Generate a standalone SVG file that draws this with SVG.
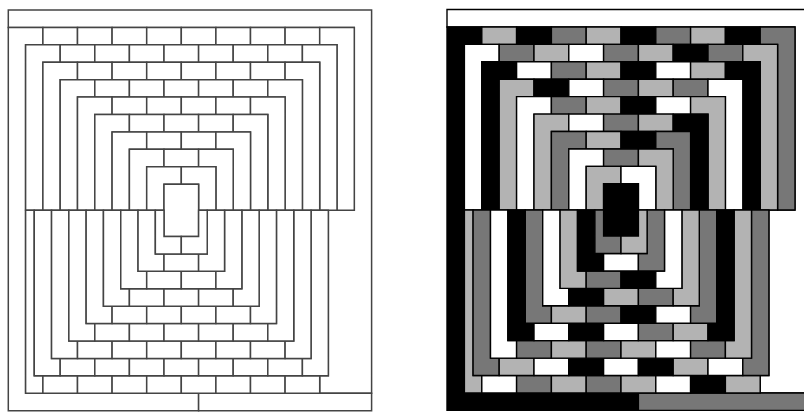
<svg xmlns="http://www.w3.org/2000/svg" width="804" height="413" viewBox="0 0 804 413">
<style>
rect,polygon{vector-effect:non-scaling-stroke;stroke-linejoin:miter}
.k{fill:#000}.d{fill:#777}.l{fill:#b3b3b3}.w{fill:#fff}
#right rect,#right polygon{stroke:#000;stroke-width:1.4}
#left rect,#left polygon{fill:#fff;stroke:#444;stroke-width:1.5}
</style>
<rect x="0" y="0" width="804" height="413" fill="#fff" style="stroke:none"/>
<g id="left" transform="translate(8.3,10) scale(17.3,17.42)">
<polygon class="w" points="0,0 21,0 21,22 18,22 18,21 18.5,21 18.5,11.5 20,11.5 20,1 0,1"/>
<polygon class="k" points="0,1 2,1 2,2 1,2 1,22 11,22 11,23 0,23"/>
<rect class="d" x="11" y="22" width="10" height="1"/>
<rect class="l" x="2" y="1" width="2" height="1"/><rect class="k" x="4" y="1" width="2" height="1"/><rect class="d" x="6" y="1" width="2" height="1"/><rect class="l" x="8" y="1" width="2" height="1"/><rect class="k" x="10" y="1" width="2" height="1"/><rect class="d" x="12" y="1" width="2" height="1"/><rect class="l" x="14" y="1" width="2" height="1"/><rect class="k" x="16" y="1" width="2" height="1"/>
<polygon class="d" points="18,1 20,1 20,11.5 19,11.5 19,2 18,2"/>
<polygon class="w" points="1,2 3,2 3,3 2,3 2,11.5 1,11.5"/>
<rect class="d" x="3" y="2" width="2" height="1"/><rect class="l" x="5" y="2" width="2" height="1"/><rect class="w" x="7" y="2" width="2" height="1"/><rect class="d" x="9" y="2" width="2" height="1"/><rect class="l" x="11" y="2" width="2" height="1"/><rect class="k" x="13" y="2" width="2" height="1"/><rect class="d" x="15" y="2" width="2" height="1"/>
<polygon class="l" points="17,2 19,2 19,11.5 18,11.5 18,3 17,3"/>
<polygon class="k" points="2,3 4,3 4,4 3,4 3,11.5 2,11.5"/>
<rect class="w" x="4" y="3" width="2" height="1"/><rect class="d" x="6" y="3" width="2" height="1"/><rect class="l" x="8" y="3" width="2" height="1"/><rect class="k" x="10" y="3" width="2" height="1"/><rect class="w" x="12" y="3" width="2" height="1"/><rect class="l" x="14" y="3" width="2" height="1"/>
<polygon class="k" points="16,3 18,3 18,11.5 17,11.5 17,4 16,4"/>
<polygon class="l" points="3,4 5,4 5,5 4,5 4,11.5 3,11.5"/>
<rect class="k" x="5" y="4" width="2" height="1"/><rect class="w" x="7" y="4" width="2" height="1"/><rect class="d" x="9" y="4" width="2" height="1"/><rect class="l" x="11" y="4" width="2" height="1"/><rect class="d" x="13" y="4" width="2" height="1"/>
<polygon class="w" points="15,4 17,4 17,11.5 16,11.5 16,5 15,5"/>
<polygon class="w" points="4,5 6,5 6,6 5,6 5,11.5 4,11.5"/>
<rect class="d" x="6" y="5" width="2" height="1"/><rect class="l" x="8" y="5" width="2" height="1"/><rect class="k" x="10" y="5" width="2" height="1"/><rect class="w" x="12" y="5" width="2" height="1"/>
<polygon class="l" points="14,5 16,5 16,11.5 15,11.5 15,6 14,6"/>
<polygon class="l" points="5,6 7,6 7,7 6,7 6,11.5 5,11.5"/>
<rect class="w" x="7" y="6" width="2" height="1"/><rect class="d" x="9" y="6" width="2" height="1"/><rect class="l" x="11" y="6" width="2" height="1"/>
<polygon class="k" points="13,6 15,6 15,11.5 14,11.5 14,7 13,7"/>
<polygon class="d" points="6,7 8,7 8,8 7,8 7,11.5 6,11.5"/>
<rect class="l" x="8" y="7" width="2" height="1"/><rect class="k" x="10" y="7" width="2" height="1"/>
<polygon class="d" points="12,7 14,7 14,11.5 13,11.5 13,8 12,8"/>
<polygon class="w" points="7,8 9,8 9,9 8,9 8,11.5 7,11.5"/>
<rect class="d" x="9" y="8" width="2" height="1"/>
<polygon class="l" points="11,8 13,8 13,11.5 12,11.5 12,9 11,9"/>
<polygon class="l" points="8,9 10,9 10,10 9,10 9,11.5 8,11.5"/>
<polygon class="w" points="10,9 12,9 12,11.5 11,11.5 11,10 10,10"/>
<rect class="k" x="9" y="10" width="2" height="3"/>
<polygon class="l" points="1,11.5 1.5,11.5 1.5,21 2,21 2,22 1,22"/>
<rect class="w" x="2" y="21" width="2" height="1"/><rect class="d" x="4" y="21" width="2" height="1"/><rect class="l" x="6" y="21" width="2" height="1"/><rect class="d" x="8" y="21" width="2" height="1"/><rect class="l" x="10" y="21" width="2" height="1"/><rect class="w" x="12" y="21" width="2" height="1"/><rect class="k" x="14" y="21" width="2" height="1"/><rect class="l" x="16" y="21" width="2" height="1"/>
<polygon class="d" points="1.5,11.5 2.5,11.5 2.5,20 3,20 3,21 1.5,21"/>
<rect class="l" x="3" y="20" width="2" height="1"/><rect class="w" x="5" y="20" width="2" height="1"/><rect class="k" x="7" y="20" width="2" height="1"/><rect class="w" x="9" y="20" width="2" height="1"/><rect class="k" x="11" y="20" width="2" height="1"/><rect class="l" x="13" y="20" width="2" height="1"/><rect class="w" x="15" y="20" width="2" height="1"/>
<polygon class="d" points="17.5,11.5 18.5,11.5 18.5,21 17,21 17,20 17.5,20"/>
<polygon class="w" points="2.5,11.5 3.5,11.5 3.5,19 4,19 4,20 2.5,20"/>
<rect class="d" x="4" y="19" width="2" height="1"/><rect class="l" x="6" y="19" width="2" height="1"/><rect class="d" x="8" y="19" width="2" height="1"/><rect class="l" x="10" y="19" width="2" height="1"/><rect class="w" x="12" y="19" width="2" height="1"/><rect class="d" x="14" y="19" width="2" height="1"/>
<polygon class="l" points="16.5,11.5 17.5,11.5 17.5,20 16,20 16,19 16.5,19"/>
<polygon class="k" points="3.5,11.5 4.5,11.5 4.5,18 5,18 5,19 3.5,19"/>
<rect class="w" x="5" y="18" width="2" height="1"/><rect class="k" x="7" y="18" width="2" height="1"/><rect class="w" x="9" y="18" width="2" height="1"/><rect class="d" x="11" y="18" width="2" height="1"/><rect class="l" x="13" y="18" width="2" height="1"/>
<polygon class="k" points="15.5,11.5 16.5,11.5 16.5,19 15,19 15,18 15.5,18"/>
<polygon class="d" points="4.5,11.5 5.5,11.5 5.5,17 6,17 6,18 4.5,18"/>
<rect class="l" x="6" y="17" width="2" height="1"/><rect class="d" x="8" y="17" width="2" height="1"/><rect class="k" x="10" y="17" width="2" height="1"/><rect class="w" x="12" y="17" width="2" height="1"/>
<polygon class="d" points="14.5,11.5 15.5,11.5 15.5,18 14,18 14,17 14.5,17"/>
<polygon class="w" points="5.5,11.5 6.5,11.5 6.5,16 7,16 7,17 5.5,17"/>
<rect class="k" x="7" y="16" width="2" height="1"/><rect class="l" x="9" y="16" width="2" height="1"/><rect class="d" x="11" y="16" width="2" height="1"/>
<polygon class="l" points="13.5,11.5 14.5,11.5 14.5,17 13,17 13,16 13.5,16"/>
<polygon class="l" points="6.5,11.5 7.5,11.5 7.5,15 8,15 8,16 6.5,16"/>
<rect class="d" x="8" y="15" width="2" height="1"/><rect class="k" x="10" y="15" width="2" height="1"/>
<polygon class="w" points="12.5,11.5 13.5,11.5 13.5,16 12,16 12,15 12.5,15"/>
<polygon class="k" points="7.5,11.5 8.5,11.5 8.5,14 9,14 9,15 7.5,15"/>
<rect class="w" x="9" y="14" width="2" height="1"/>
<polygon class="d" points="11.5,11.5 12.5,11.5 12.5,15 11,15 11,14 11.5,14"/>
<polygon class="d" points="8.5,11.5 9,11.5 9,13 10,13 10,14 8.5,14"/>
<polygon class="l" points="11,11.5 11.5,11.5 11.5,14 10,14 10,13 11,13"/>
</g>
<g id="right" transform="translate(447,9.5) scale(17.4,17.43)">
<polygon class="w" points="0,0 21,0 21,22 18,22 18,21 18.5,21 18.5,11.5 20,11.5 20,1 0,1"/>
<polygon class="k" points="0,1 2,1 2,2 1,2 1,22 11,22 11,23 0,23"/>
<rect class="d" x="11" y="22" width="10" height="1"/>
<rect class="l" x="2" y="1" width="2" height="1"/><rect class="k" x="4" y="1" width="2" height="1"/><rect class="d" x="6" y="1" width="2" height="1"/><rect class="l" x="8" y="1" width="2" height="1"/><rect class="k" x="10" y="1" width="2" height="1"/><rect class="d" x="12" y="1" width="2" height="1"/><rect class="l" x="14" y="1" width="2" height="1"/><rect class="k" x="16" y="1" width="2" height="1"/>
<polygon class="d" points="18,1 20,1 20,11.5 19,11.5 19,2 18,2"/>
<polygon class="w" points="1,2 3,2 3,3 2,3 2,11.5 1,11.5"/>
<rect class="d" x="3" y="2" width="2" height="1"/><rect class="l" x="5" y="2" width="2" height="1"/><rect class="w" x="7" y="2" width="2" height="1"/><rect class="d" x="9" y="2" width="2" height="1"/><rect class="l" x="11" y="2" width="2" height="1"/><rect class="k" x="13" y="2" width="2" height="1"/><rect class="d" x="15" y="2" width="2" height="1"/>
<polygon class="l" points="17,2 19,2 19,11.5 18,11.5 18,3 17,3"/>
<polygon class="k" points="2,3 4,3 4,4 3,4 3,11.5 2,11.5"/>
<rect class="w" x="4" y="3" width="2" height="1"/><rect class="d" x="6" y="3" width="2" height="1"/><rect class="l" x="8" y="3" width="2" height="1"/><rect class="k" x="10" y="3" width="2" height="1"/><rect class="w" x="12" y="3" width="2" height="1"/><rect class="l" x="14" y="3" width="2" height="1"/>
<polygon class="k" points="16,3 18,3 18,11.5 17,11.5 17,4 16,4"/>
<polygon class="l" points="3,4 5,4 5,5 4,5 4,11.5 3,11.5"/>
<rect class="k" x="5" y="4" width="2" height="1"/><rect class="w" x="7" y="4" width="2" height="1"/><rect class="d" x="9" y="4" width="2" height="1"/><rect class="l" x="11" y="4" width="2" height="1"/><rect class="d" x="13" y="4" width="2" height="1"/>
<polygon class="w" points="15,4 17,4 17,11.5 16,11.5 16,5 15,5"/>
<polygon class="w" points="4,5 6,5 6,6 5,6 5,11.5 4,11.5"/>
<rect class="d" x="6" y="5" width="2" height="1"/><rect class="l" x="8" y="5" width="2" height="1"/><rect class="k" x="10" y="5" width="2" height="1"/><rect class="w" x="12" y="5" width="2" height="1"/>
<polygon class="l" points="14,5 16,5 16,11.5 15,11.5 15,6 14,6"/>
<polygon class="l" points="5,6 7,6 7,7 6,7 6,11.5 5,11.5"/>
<rect class="w" x="7" y="6" width="2" height="1"/><rect class="d" x="9" y="6" width="2" height="1"/><rect class="l" x="11" y="6" width="2" height="1"/>
<polygon class="k" points="13,6 15,6 15,11.5 14,11.5 14,7 13,7"/>
<polygon class="d" points="6,7 8,7 8,8 7,8 7,11.5 6,11.5"/>
<rect class="l" x="8" y="7" width="2" height="1"/><rect class="k" x="10" y="7" width="2" height="1"/>
<polygon class="d" points="12,7 14,7 14,11.5 13,11.5 13,8 12,8"/>
<polygon class="w" points="7,8 9,8 9,9 8,9 8,11.5 7,11.5"/>
<rect class="d" x="9" y="8" width="2" height="1"/>
<polygon class="l" points="11,8 13,8 13,11.5 12,11.5 12,9 11,9"/>
<polygon class="l" points="8,9 10,9 10,10 9,10 9,11.5 8,11.5"/>
<polygon class="w" points="10,9 12,9 12,11.5 11,11.5 11,10 10,10"/>
<rect class="k" x="9" y="10" width="2" height="3"/>
<polygon class="l" points="1,11.5 1.5,11.5 1.5,21 2,21 2,22 1,22"/>
<rect class="w" x="2" y="21" width="2" height="1"/><rect class="d" x="4" y="21" width="2" height="1"/><rect class="l" x="6" y="21" width="2" height="1"/><rect class="d" x="8" y="21" width="2" height="1"/><rect class="l" x="10" y="21" width="2" height="1"/><rect class="w" x="12" y="21" width="2" height="1"/><rect class="k" x="14" y="21" width="2" height="1"/><rect class="l" x="16" y="21" width="2" height="1"/>
<polygon class="d" points="1.5,11.5 2.5,11.5 2.5,20 3,20 3,21 1.5,21"/>
<rect class="l" x="3" y="20" width="2" height="1"/><rect class="w" x="5" y="20" width="2" height="1"/><rect class="k" x="7" y="20" width="2" height="1"/><rect class="w" x="9" y="20" width="2" height="1"/><rect class="k" x="11" y="20" width="2" height="1"/><rect class="l" x="13" y="20" width="2" height="1"/><rect class="w" x="15" y="20" width="2" height="1"/>
<polygon class="d" points="17.5,11.5 18.5,11.5 18.5,21 17,21 17,20 17.5,20"/>
<polygon class="w" points="2.5,11.5 3.5,11.5 3.5,19 4,19 4,20 2.5,20"/>
<rect class="d" x="4" y="19" width="2" height="1"/><rect class="l" x="6" y="19" width="2" height="1"/><rect class="d" x="8" y="19" width="2" height="1"/><rect class="l" x="10" y="19" width="2" height="1"/><rect class="w" x="12" y="19" width="2" height="1"/><rect class="d" x="14" y="19" width="2" height="1"/>
<polygon class="l" points="16.5,11.5 17.5,11.5 17.5,20 16,20 16,19 16.5,19"/>
<polygon class="k" points="3.5,11.5 4.5,11.5 4.5,18 5,18 5,19 3.5,19"/>
<rect class="w" x="5" y="18" width="2" height="1"/><rect class="k" x="7" y="18" width="2" height="1"/><rect class="w" x="9" y="18" width="2" height="1"/><rect class="d" x="11" y="18" width="2" height="1"/><rect class="l" x="13" y="18" width="2" height="1"/>
<polygon class="k" points="15.5,11.5 16.5,11.5 16.5,19 15,19 15,18 15.5,18"/>
<polygon class="d" points="4.5,11.5 5.5,11.5 5.5,17 6,17 6,18 4.5,18"/>
<rect class="l" x="6" y="17" width="2" height="1"/><rect class="d" x="8" y="17" width="2" height="1"/><rect class="k" x="10" y="17" width="2" height="1"/><rect class="w" x="12" y="17" width="2" height="1"/>
<polygon class="d" points="14.5,11.5 15.5,11.5 15.5,18 14,18 14,17 14.5,17"/>
<polygon class="w" points="5.5,11.5 6.5,11.5 6.5,16 7,16 7,17 5.5,17"/>
<rect class="k" x="7" y="16" width="2" height="1"/><rect class="l" x="9" y="16" width="2" height="1"/><rect class="d" x="11" y="16" width="2" height="1"/>
<polygon class="l" points="13.5,11.5 14.5,11.5 14.5,17 13,17 13,16 13.5,16"/>
<polygon class="l" points="6.5,11.5 7.5,11.5 7.5,15 8,15 8,16 6.5,16"/>
<rect class="d" x="8" y="15" width="2" height="1"/><rect class="k" x="10" y="15" width="2" height="1"/>
<polygon class="w" points="12.5,11.5 13.5,11.5 13.5,16 12,16 12,15 12.5,15"/>
<polygon class="k" points="7.5,11.5 8.5,11.5 8.5,14 9,14 9,15 7.5,15"/>
<rect class="w" x="9" y="14" width="2" height="1"/>
<polygon class="d" points="11.5,11.5 12.5,11.5 12.5,15 11,15 11,14 11.5,14"/>
<polygon class="d" points="8.5,11.5 9,11.5 9,13 10,13 10,14 8.5,14"/>
<polygon class="l" points="11,11.5 11.5,11.5 11.5,14 10,14 10,13 11,13"/>
</g>
</svg>
